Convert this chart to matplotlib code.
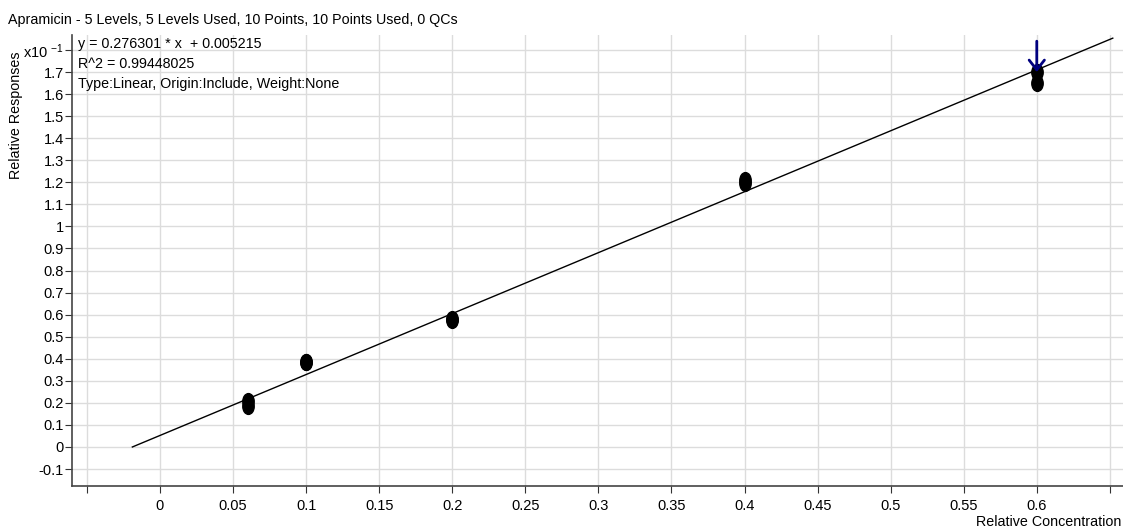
import matplotlib
matplotlib.use("Agg")
import matplotlib.pyplot as plt
import numpy as np
from matplotlib.path import Path
from matplotlib.transforms import Affine2D

plt.rcParams['font.family'] = ['Liberation Sans Narrow', 'Liberation Sans', 'DejaVu Sans']
plt.rcParams['font.size'] = 10
plt.rcParams['mathtext.default'] = 'regular'

# calibration points (relative concentration, response in x10^-1)
konc = [0.06, 0.06, 0.1, 0.1, 0.2, 0.2, 0.4, 0.4, 0.6, 0.6]
odpowiedz = [0.21, 0.185, 0.385, 0.385, 0.575, 0.578, 1.21, 1.195, 1.70, 1.65]

nachylenie = 0.276301
wyraz_wolny = 0.005215
linia_x = [-0.0189, 0.652]

xticks = [-0.05, 0, 0.05, 0.1, 0.15, 0.2, 0.25, 0.3, 0.35, 0.4, 0.45, 0.5, 0.55, 0.6, 0.65]
xlabels = ['', '0', '0.05', '0.1', '0.15', '0.2', '0.25', '0.3', '0.35', '0.4', '0.45', '0.5', '0.55', '0.6', '']
yticks = [-0.1, 0, 0.1, 0.2, 0.3, 0.4, 0.5, 0.6, 0.7, 0.8, 0.9, 1.0, 1.1, 1.2, 1.3, 1.4, 1.5, 1.6, 1.7, 1.8]
ylabels = ['-0.1', '0', '0.1', '0.2', '0.3', '0.4', '0.5', '0.6', '0.7', '0.8', '0.9', '1',
           '1.1', '1.2', '1.3', '1.4', '1.5', '1.6', '1.7', 'x10 $^{-1}$']

W, H = 1123, 531
fig = plt.figure(figsize=(W / 100, H / 100), dpi=100)
ax = fig.add_axes([72 / W, (H - 486) / H, (W - 72) / W, (486 - 35) / H])

ax.set_xlim(-0.0602, 0.659)
ax.set_ylim(-0.177, 1.868)

ax.set_xticks(xticks)
ax.set_xticklabels(xlabels)
ax.set_yticks(yticks)
ax.set_yticklabels(ylabels)
ax.grid(True, color='#dcdcdc', linewidth=1)
ax.set_axisbelow(True)
for s in ['top', 'right']:
    ax.spines[s].set_visible(False)
for s in ['left', 'bottom']:
    ax.spines[s].set_color('#444444')
    ax.spines[s].set_linewidth(1.2)
ax.tick_params(axis='x', length=5, pad=4, labelsize=10.5, color='#333333')
ax.tick_params(axis='y', length=5, pad=1, labelsize=10.5, color='#333333')

lx = np.array(linia_x)
ly = 10 * (nachylenie * lx + wyraz_wolny)
ax.plot(lx, ly, color='black', linewidth=1)

elipsa = Path.unit_circle().transformed(Affine2D().scale(0.72, 1.0))
ax.scatter(konc, odpowiedz, marker=elipsa, s=130, color='black', zorder=3)

ax.annotate('', xy=(0.6, 1.70), xytext=(0.6, 1.84),
            arrowprops=dict(arrowstyle='->,head_length=0.7,head_width=0.55', color='#00007f', lw=2,
                            shrinkA=0, shrinkB=0))

fig.text(78 / W, 1 - 44 / H, 'y = 0.276301 * x  + 0.005215', fontsize=10.3, va='center')
fig.text(78 / W, 1 - 64 / H, 'R^2 = 0.99448025', fontsize=10.3, va='center')
fig.text(78 / W, 1 - 84 / H, 'Type:Linear, Origin:Include, Weight:None', fontsize=10.3, va='center')

fig.text(8 / W, 1 - 20 / H, 'Apramicin - 5 Levels, 5 Levels Used, 10 Points, 10 Points Used, 0 QCs',
         fontsize=10.3, va='center', ha='left')
fig.text(16 / W, 1 - 115 / H, 'Relative Responses', rotation=90, fontsize=10.3, va='center', ha='center')
fig.text(1121 / W, 1 - 522 / H, 'Relative Concentration', fontsize=10.3, va='center', ha='right')

fig.savefig('out.png', dpi=100)
